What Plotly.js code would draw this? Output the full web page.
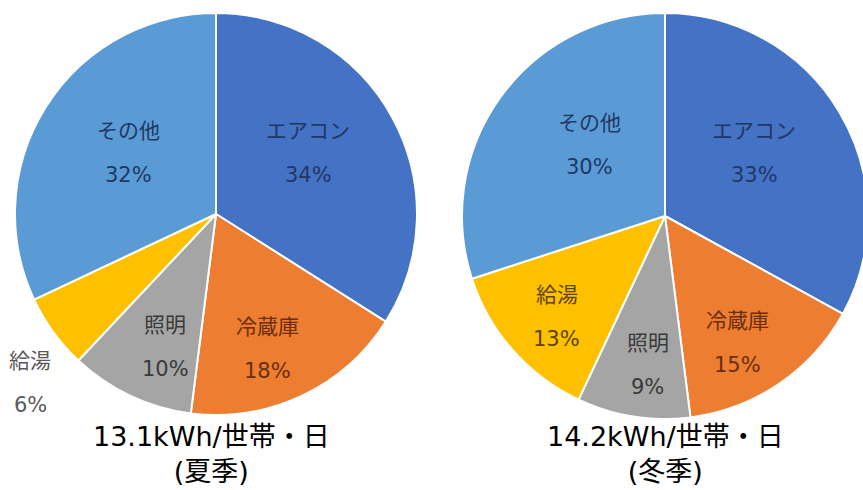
<!DOCTYPE html>
<html>
<head>
<meta charset="utf-8">
<script src="https://cdn.plot.ly/plotly-3.0.1.min.js"></script>
<style>
html,body{margin:0;padding:0;background:#fff;overflow:hidden;width:863px;height:490px;}
#chart{width:880px;height:490px;}
</style>
</head>
<body>
<div id="chart"></div>
<script>
// ---- data ----
const categories = ['エアコン', '冷蔵庫', '照明', '給湯', 'その他'];
const summerValues = [34, 18, 10, 6, 32];
const winterValues = [33, 15, 9, 13, 30];
const totalLabels = ['13.1kWh/世帯・日', '14.2kWh/世帯・日'];
const seasonLabels = ['(夏季)', '(冬季)'];

// ---- style / layout config ----
const W = 880, H = 490;
const sliceColors = ['#4472C4', '#ED7D31', '#A5A5A5', '#FFC000', '#5B9BD5'];
const textColors = ['#1F3864', '#6B2E0A', '#3A3A3A', '#5C4400', '#1F3864'];
const outsideTextColor = '#595959';
const FONT = '"DejaVu Sans", "Noto Sans CJK JP", sans-serif';

const pies = [
  { values: summerValues, cx: 216, cy: 214, r: 201,
    labelR: [0.55, 0.72, 0.71, 1.25, 0.53],
    nudge: [-4.7, 4.5, -4.4, -6.4, 2.3],
    outside: [false, false, false, true, false],
    capX: 211 },
  { values: winterValues, cx: 665, cy: 216, r: 203,
    labelR: [0.54, 0.72, 0.74, 0.73, 0.51],
    nudge: [-4.7, 4.5, -2.5, -1.7, 7.4],
    outside: [false, false, false, false, false],
    capX: 665 }
];

const px = x => x / W;
const py = y => 1 - y / H;

const traces = [];
const annotations = [];

pies.forEach((p, k) => {
  traces.push({
    type: 'pie',
    labels: categories,
    values: p.values,
    sort: false,
    direction: 'clockwise',
    rotation: 0,
    textinfo: 'none',
    hoverinfo: 'label+percent',
    showlegend: false,
    marker: { colors: sliceColors, line: { color: '#ffffff', width: 2 } },
    domain: { x: [px(p.cx - p.r), px(p.cx + p.r)], y: [py(p.cy + p.r), py(p.cy - p.r)] }
  });

  const total = p.values.reduce((a, b) => a + b, 0);
  let cum = 0;
  p.values.forEach((v, i) => {
    const mid = (cum + v / 2) / total * 360 + p.nudge[i];
    cum += v;
    const a = mid * Math.PI / 180;
    const d = p.labelR[i] * p.r;
    const x = p.cx + d * Math.sin(a);
    const y = p.cy - d * Math.cos(a);
    const col = p.outside[i] ? outsideTextColor : textColors[i];
    annotations.push({
      xref: 'paper', yref: 'paper', x: px(x), y: py(y), xanchor: 'center', yanchor: 'middle',
      text: categories[i], showarrow: false, yshift: 22,
      font: { family: FONT, size: 21, color: col }
    });
    annotations.push({
      xref: 'paper', yref: 'paper', x: px(x), y: py(y), xanchor: 'center', yanchor: 'middle',
      text: v + '%', showarrow: false, yshift: -22,
      font: { family: FONT, size: 21, color: col }
    });
  });

  annotations.push({
    xref: 'paper', yref: 'paper', x: px(p.capX), y: py(489), xanchor: 'center', yanchor: 'bottom',
    text: totalLabels[k] + '<br>' + seasonLabels[k], showarrow: false, align: 'center',
    font: { family: FONT, size: 27, color: '#000000' }
  });
});

const layout = {
  width: W, height: H,
  margin: { l: 0, r: 0, t: 0, b: 0 },
  paper_bgcolor: '#ffffff',
  plot_bgcolor: '#ffffff',
  annotations: annotations
};

Plotly.newPlot('chart', traces, layout, { displayModeBar: false, staticPlot: true });
</script>
</body>
</html>
